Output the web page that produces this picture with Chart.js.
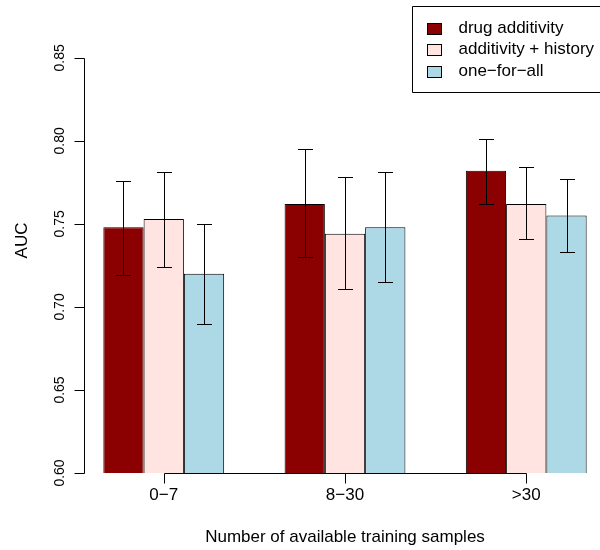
<!DOCTYPE html>
<html>
<head>
<meta charset="utf-8">
<script src="https://cdn.jsdelivr.net/npm/chart.js@4.4.1/dist/chart.umd.min.js"></script>
<style>
  html, body { margin: 0; padding: 0; background: #fff; overflow: hidden; }
  #wrap { width: 600px; height: 550px; overflow: hidden; }
</style>
</head>
<body>
<div id="wrap"><canvas id="barChart" width="620" height="550"></canvas></div>
<script>
// groups on the x axis
const groups = ['0\u22127', '8\u221230', '>30'];

// series
const seriesNames = ['drug additivity', 'additivity + history', 'one\u2212for\u2212all'];
const seriesColors = ['#8b0000', '#ffe4e1', '#add8e6'];

// mean AUC per group
const drugAdditivity = [0.748, 0.762, 0.782];
const additivityHistory = [0.753, 0.744, 0.762];
const oneForAll = [0.720, 0.748, 0.755];

// error bars [low, high]
const drugAdditivityErr = [[0.719, 0.776], [0.730, 0.795], [0.762, 0.801]];
const additivityHistoryErr = [[0.724, 0.781], [0.711, 0.778], [0.741, 0.784]];
const oneForAllErr = [[0.690, 0.750], [0.715, 0.781], [0.733, 0.777]];

const yTicks = [0.60, 0.65, 0.70, 0.75, 0.80, 0.85];

const seriesValues = [drugAdditivity, additivityHistory, oneForAll];
const seriesErrors = [drugAdditivityErr, additivityHistoryErr, oneForAllErr];

// barplot(beside = TRUE) style layout: bar width 1, gap 1.5 before each group
const barsPerGroup = seriesNames.length;
const groupGap = 1.5;
const groupMid = groups.map((g, i) => groupGap * (i + 1) + barsPerGroup * i + barsPerGroup / 2);
const xFrom = groupGap;
const xTo = groups.length * (barsPerGroup + groupGap);
const xPad = 0.04 * (xTo - xFrom);

const FONT = "'Liberation Sans', Arial, Helvetica, sans-serif";

const rStyle = {
    id: 'rStyle',
    afterDatasetsDraw(chart) {
        const ctx = chart.ctx;
        const y = chart.scales.y;
        ctx.save();
        ctx.strokeStyle = '#000';
        ctx.lineWidth = 1;
        chart.data.datasets.forEach((ds, i) => {
            const meta = chart.getDatasetMeta(i);
            meta.data.forEach((bar, j) => {
                const [lo, hi] = seriesErrors[i][j];
                const x = Math.round(bar.x) + 0.5;
                const yLo = Math.round(y.getPixelForValue(lo)) + 0.5;
                const yHi = Math.round(y.getPixelForValue(hi)) + 0.5;
                ctx.beginPath();
                ctx.moveTo(x, yLo); ctx.lineTo(x, yHi);
                ctx.moveTo(x - 7.5, yLo); ctx.lineTo(x + 7.5, yLo);
                ctx.moveTo(x - 7.5, yHi); ctx.lineTo(x + 7.5, yHi);
                ctx.stroke();
            });
        });
        ctx.restore();
    },
    afterDraw(chart) {
        const ctx = chart.ctx;
        const area = chart.chartArea;
        const x = chart.scales.x;
        const y = chart.scales.y;
        ctx.save();
        ctx.strokeStyle = '#000';
        ctx.fillStyle = '#000';
        ctx.lineWidth = 1;

        // y axis
        const ax = Math.round(area.left) + 0.5;
        const yTop = Math.round(y.getPixelForValue(yTicks[yTicks.length - 1])) + 0.5;
        const yBot = Math.round(y.getPixelForValue(yTicks[0])) + 0.5;
        ctx.beginPath();
        ctx.moveTo(ax, yTop); ctx.lineTo(ax, yBot);
        yTicks.forEach(t => {
            const py = Math.round(y.getPixelForValue(t)) + 0.5;
            ctx.moveTo(ax, py); ctx.lineTo(ax - 10, py);
        });
        ctx.stroke();
        ctx.font = '14px ' + FONT;
        ctx.textAlign = 'center';
        ctx.textBaseline = 'middle';
        yTicks.forEach(t => {
            ctx.save();
            ctx.translate(ax - 24, y.getPixelForValue(t));
            ctx.rotate(-Math.PI / 2);
            ctx.fillText(t.toFixed(2), 0, 0);
            ctx.restore();
        });
        ctx.save();
        ctx.font = '17px ' + FONT;
        ctx.translate(22, (area.top + area.bottom) / 2);
        ctx.rotate(-Math.PI / 2);
        ctx.fillText('AUC', 0, 0);
        ctx.restore();

        // x axis
        const bx = Math.round(area.bottom) + 0.5;
        ctx.beginPath();
        ctx.moveTo(Math.round(x.getPixelForValue(groupMid[0])) + 0.5, bx);
        ctx.lineTo(Math.round(x.getPixelForValue(groupMid[groupMid.length - 1])) + 0.5, bx);
        groupMid.forEach(m => {
            const px = Math.round(x.getPixelForValue(m)) + 0.5;
            ctx.moveTo(px, bx); ctx.lineTo(px, bx + 10);
        });
        ctx.stroke();
        ctx.font = '17px ' + FONT;
        groups.forEach((g, i) => {
            ctx.fillText(g, x.getPixelForValue(groupMid[i]), area.bottom + 22);
        });
        ctx.fillText('Number of available training samples', (area.left + area.right) / 2, area.bottom + 64);

        // legend box, top right corner of the plot region
        const rowH = 21.5;
        const boxW = 194;
        const lx = Math.round(area.right - boxW) + 0.5;
        const ly = Math.round(area.top) - 1.5;
        ctx.beginPath();
        ctx.rect(lx, ly, boxW, rowH * 4);
        ctx.stroke();
        ctx.textAlign = 'left';
        seriesNames.forEach((name, i) => {
            const cy = ly + rowH * (i + 1);
            ctx.fillStyle = seriesColors[i];
            ctx.fillRect(lx + 15, Math.round(cy - 5.5), 14, 11);
            ctx.strokeRect(lx + 15, Math.round(cy - 5.5) + 0.5, 14, 11);
            ctx.fillStyle = '#000';
            ctx.fillText(name, lx + 46, cy);
        });
        ctx.restore();
    }
};

const ctxBar = document.getElementById('barChart').getContext('2d');

const chart = new Chart(ctxBar, {
    type: 'bar',
    data: {
        datasets: seriesNames.map((name, i) => ({
            label: name,
            data: seriesValues[i].map((v, j) => ({ x: groupMid[j], y: v })),
            backgroundColor: seriesColors[i],
            borderColor: '#000',
            borderWidth: 1,
            borderSkipped: false,
            barPercentage: 1,
            categoryPercentage: barsPerGroup / (barsPerGroup + groupGap)
        }))
    },
    options: {
        responsive: false,
        animation: false,
        devicePixelRatio: 1,
        layout: { padding: { left: 84, top: 8, right: 14, bottom: 77 } },
        plugins: {
            legend: { display: false },
            tooltip: { enabled: false }
        },
        scales: {
            x: {
                type: 'linear', min: xFrom - xPad, max: xTo + xPad, offset: false, display: false,
                // ticks only at the group centres, so the bar width follows the group spacing
                afterBuildTicks: s => { s.ticks = groupMid.map(v => ({ value: v })); }
            },
            y: { min: 0.6, max: 0.88, display: false }
        }
    },
    plugins: [rStyle]
});
</script>
</body>
</html>
